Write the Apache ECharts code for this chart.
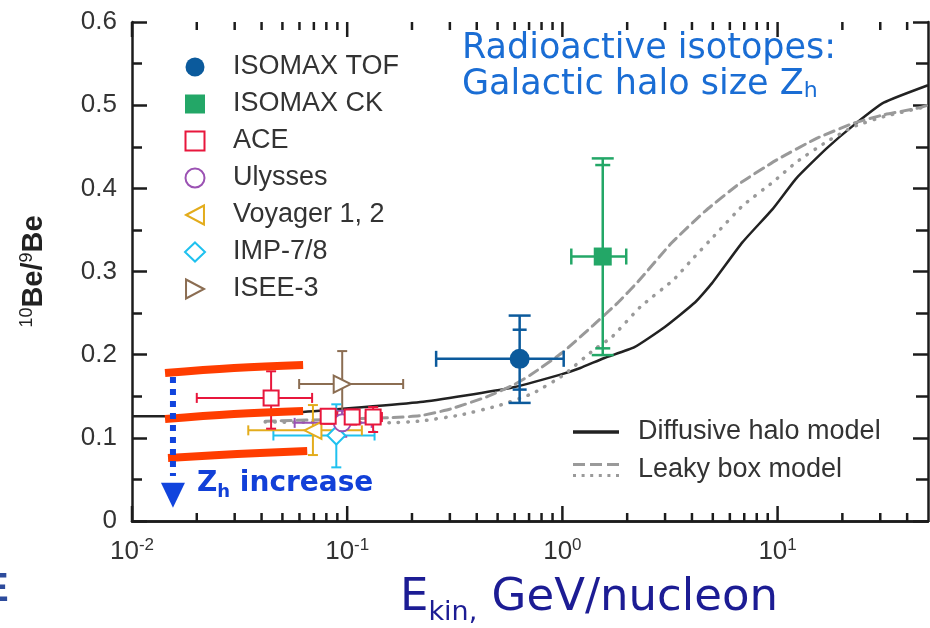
<!DOCTYPE html>
<html>
<head>
<meta charset="utf-8">
<script src="https://cdn.jsdelivr.net/npm/echarts@6/dist/echarts.min.js"></script>
<style>
  html, body { margin: 0; padding: 0; background: #fff; }
  #chart { width: 930px; height: 628px; }
</style>
</head>
<body>
<div id="chart"></div>
<script>
// 10Be/9Be isotope ratio versus kinetic energy per nucleon.
// Measurement rows: [E, E low, E high, ratio, ratio low, ratio high, (inner low, inner high)]
const isomaxTof = [[0.633, 0.259, 1.014, 0.195, 0.142, 0.247, 0.158, 0.230]];
const isomaxCk  = [[1.54, 1.10, 1.98, 0.318, 0.1995, 0.436, 0.2076, 0.428]];
const ace = [
  [0.0443, 0.0200, 0.0687, 0.148, 0.111, 0.180],
  [0.0816, 0.0757, 0.0900, 0.126, 0.117, 0.1346],
  [0.1055, 0.0980, 0.1130, 0.125, 0.116, 0.134],
  [0.132, 0.122, 0.145, 0.125, 0.107, 0.137]
];
const ulysses = [[0.0948, 0.057, 0.130, 0.118, 0.1013, 0.1325]];
const voyager = [[0.0693, 0.0347, 0.117, 0.109, 0.0793, 0.1394]];
const imp78   = [[0.089, 0.0454, 0.134, 0.1028, 0.0645, 0.1403]];
const isee3   = [[0.0948, 0.0598, 0.182, 0.1647, 0.125, 0.2043]];

// Model curves: [E, ratio]
const diffusiveHalo = [
  [0.01, 0.126], [0.02, 0.126], [0.035, 0.128], [0.0624, 0.131], [0.2185, 0.143],
  [0.573, 0.160], [0.979, 0.176], [1.212, 0.184], [1.568, 0.196], [2.162, 0.209],
  [2.981, 0.233], [4.142, 0.263], [4.96, 0.286], [6.86, 0.335], [9.48, 0.375],
  [12.22, 0.412], [16.9, 0.448], [22.6, 0.476], [31.1, 0.503], [50, 0.524]
];
const leakyBoxDashed = [
  [0.0416, 0.120], [0.1585, 0.1242], [0.2185, 0.1266], [0.3013, 0.1346], [0.4465, 0.1494],
  [0.5917, 0.1635], [0.7098, 0.1755], [1.011, 0.2035], [1.394, 0.2356], [1.797, 0.2617],
  [2.286, 0.290], [3.221, 0.3345], [4.626, 0.373], [6.628, 0.4054], [9.86, 0.4339],
  [15.18, 0.460], [22.6, 0.4784], [31.3, 0.4885], [44.9, 0.4965], [50, 0.500]
];
const leakyBoxDotted = [
  [0.0416, 0.119], [0.1585, 0.1181], [0.2185, 0.1202], [0.3354, 0.1274], [0.5147, 0.1394],
  [0.7326, 0.1538], [1.011, 0.1755], [1.394, 0.2055], [1.703, 0.2215], [2.306, 0.2576],
  [3.284, 0.290], [4.0, 0.3143], [5.06, 0.3425], [6.875, 0.379], [9.51, 0.4075],
  [12.26, 0.4317], [16.9, 0.456], [22.6, 0.4743], [31.3, 0.4864], [50, 0.4988]
];

// Halo-size sketch: three model bands and the downward arrow
const bandUpper  = [[0.01424, 0.1779], [0.0298, 0.1839], [0.0624, 0.1875]];
const bandMiddle = [[0.01424, 0.1226], [0.0298, 0.1286], [0.0624, 0.1322]];
const bandLower  = [[0.0147, 0.0757], [0.0308, 0.0805], [0.0652, 0.0841]];
const arrowShaft = [[0.0155, 0.173], [0.0155, 0.054]];
const arrowHead  = [[0.0155, 0.031]];

// Axis ticks
const ratioTicks = [0, 0.1, 0.2, 0.3, 0.4, 0.5, 0.6];
const energyMin = 0.01, energyMax = 50;
const energyMajorTicks = [0.01, 0.1, 1, 10];
const energyMinorTicks = [
  0.02, 0.03, 0.04, 0.05, 0.06, 0.07, 0.08, 0.09,
  0.2, 0.3, 0.4, 0.5, 0.6, 0.7, 0.8, 0.9,
  2, 3, 4, 5, 6, 7, 8, 9,
  20, 30, 40
];

const FONT = "'Liberation Sans', Arial, sans-serif";
const HAND = "'DejaVu Sans', sans-serif";
const AXIS = '#1c1c1c';
const dims = ['E', 'Elo', 'Ehi', 'R', 'Rlo', 'Rhi', 'Rlo2', 'Rhi2'];

function errorBars(color, width, capX, capY, capInner) {
  return function (params, api) {
    const e = api.value(0), elo = api.value(1), ehi = api.value(2);
    const r = api.value(3), rlo = api.value(4), rhi = api.value(5);
    const c = api.coord([e, r]);
    const xl = api.coord([elo, r])[0], xh = api.coord([ehi, r])[0];
    const yl = api.coord([e, rlo])[1], yh = api.coord([e, rhi])[1];
    const st = { stroke: color, lineWidth: width };
    const seg = (x1, y1, x2, y2) => ({ type: 'line', shape: { x1, y1, x2, y2 }, style: st });
    const kids = [
      seg(xl, c[1], xh, c[1]),
      seg(c[0], yl, c[0], yh),
      seg(xl, c[1] - capX, xl, c[1] + capX),
      seg(xh, c[1] - capX, xh, c[1] + capX),
      seg(c[0] - capY, yl, c[0] + capY, yl),
      seg(c[0] - capY, yh, c[0] + capY, yh)
    ];
    const rlo2 = api.value(6), rhi2 = api.value(7);
    if (isFinite(rlo2) && isFinite(rhi2)) {
      const yl2 = api.coord([e, rlo2])[1], yh2 = api.coord([e, rhi2])[1];
      kids.push(seg(c[0] - capInner, yl2, c[0] + capInner, yl2));
      kids.push(seg(c[0] - capInner, yh2, c[0] + capInner, yh2));
    }
    return { type: 'group', children: kids };
  };
}

function experiment(name, rows, color, symbol, opts) {
  const o = Object.assign({ size: 16, rotate: 0, filled: false, barWidth: 2, capX: 5, capY: 5, capInner: 0 }, opts || {});
  return [
    {
      type: 'custom', name: name + ' errors', data: rows, dimensions: dims,
      encode: { x: 0, y: 3 }, z: 4, silent: true, clip: false,
      renderItem: errorBars(color, o.barWidth, o.capX, o.capY, o.capInner)
    },
    {
      type: 'scatter', name: name, data: rows, dimensions: dims,
      encode: { x: 0, y: 3 }, z: 5, silent: true,
      symbol: symbol, symbolSize: o.size, symbolRotate: o.rotate, symbolKeepAspect: true,
      itemStyle: o.filled
        ? { color: color, opacity: 1 }
        : { color: '#ffffff', borderColor: color, borderWidth: 2, opacity: 1 }
    }
  ];
}

function band(data) {
  return {
    type: 'line', data: data, smooth: 0.4, symbol: 'none', z: 8, silent: true,
    lineStyle: { color: '#ff3d00', width: 8, cap: 'butt' }
  };
}

function modelLine(name, data, color, width, type) {
  return {
    type: 'line', name: name, data: data, smooth: 0.15,
    symbol: 'none', z: 2, silent: true,
    color: color, lineStyle: { color: color, width: width, type: type, cap: type === 'solid' ? 'butt' : 'round' },
    itemStyle: { color: color }
  };
}

function frameTicks(values, len) {
  return {
    type: 'custom', data: values.map(v => [v, ratioTicks[0]]), dimensions: ['E', 'R'],
    encode: { x: 0, y: 1 }, z: 20, silent: true, clip: false,
    renderItem: function (params, api) {
      const v = api.value(0);
      const b = api.coord([v, ratioTicks[0]]);
      const t = api.coord([v, ratioTicks[ratioTicks.length - 1]]);
      const st = { stroke: AXIS, lineWidth: 2.5 };
      return {
        type: 'group', children: [
          { type: 'line', shape: { x1: b[0], y1: b[1], x2: b[0], y2: b[1] - len }, style: st },
          { type: 'line', shape: { x1: t[0], y1: t[1], x2: t[0], y2: t[1] + len }, style: st }
        ]
      };
    }
  };
}

function decadeLabel(v) {
  const p = Math.log10(v);
  if (Math.abs(p - Math.round(p)) > 1e-6) return '';
  return '{b|10}{s|' + Math.round(p) + '}';
}

const chart = echarts.init(document.getElementById('chart'), null, { renderer: 'canvas' });

const xBase = {
  type: 'log', logBase: 10, min: energyMin, max: energyMax,
  axisLine: { show: true, lineStyle: { color: AXIS, width: 2.5 } },
  axisTick: { show: false },
  splitLine: { show: false }, minorTick: { show: false }
};
const yBase = {
  type: 'value', min: ratioTicks[0], max: ratioTicks[ratioTicks.length - 1], interval: 0.1,
  axisLine: { show: true, lineStyle: { color: AXIS, width: 2.5 } },
  axisTick: { show: true, inside: true, length: 15, lineStyle: { color: AXIS, width: 2.5 } },
  minorTick: { show: true, splitNumber: 2, length: 10, lineStyle: { color: AXIS, width: 2.5 } },
  splitLine: { show: false }
};

const option = {
  animation: false,
  backgroundColor: '#ffffff',
  grid: { left: 132, right: 2, top: 22, bottom: 107, containLabel: false },
  xAxis: [
    Object.assign({}, xBase, {
      position: 'bottom',
      axisLabel: {
        show: true, margin: 16, color: '#333', fontFamily: FONT,
        formatter: decadeLabel, showMaxLabel: false,
        rich: {
          b: { fontSize: 26, lineHeight: 30, fontFamily: FONT, color: '#333' },
          s: { fontSize: 17, lineHeight: 17, verticalAlign: 'top', fontFamily: FONT, color: '#333' }
        }
      }
    }),
    Object.assign({}, xBase, { position: 'top', axisLabel: { show: false } })
  ],
  yAxis: [
    Object.assign({}, yBase, {
      position: 'left',
      axisLabel: { show: true, margin: 15, fontSize: 26, color: '#333', fontFamily: FONT },
      name: '{sup|10}{b|Be/}{sup|9}{b|Be}',
      nameLocation: 'middle', nameRotate: 90, nameGap: 82,
      nameTextStyle: {
        rich: {
          b: { fontSize: 29, fontWeight: 'bold', color: '#222', fontFamily: FONT, lineHeight: 32 },
          sup: { fontSize: 18, color: '#222', fontFamily: FONT, lineHeight: 18, verticalAlign: 'top' }
        }
      }
    }),
    Object.assign({}, yBase, {
      position: 'right',
      axisLabel: { show: false },
      minorTick: { show: true, splitNumber: 2, length: 12, lineStyle: { color: AXIS, width: 2.5 } }
    })
  ],
  legend: [
    {
      data: [
        { name: 'ISOMAX TOF', icon: 'circle' },
        { name: 'ISOMAX CK', icon: 'rect' },
        { name: 'ACE', icon: 'path://M0,0h16v16h-16z' },
        { name: 'Ulysses', icon: 'circle' },
        { name: 'Voyager 1, 2', icon: 'path://M0,9L17,0L17,18Z' },
        { name: 'IMP-7/8', icon: 'diamond' },
        { name: 'ISEE-3', icon: 'path://M17,9L0,0L0,18Z' }
      ],
      orient: 'vertical', left: 184, top: 53, padding: 0,
      itemWidth: 20, itemHeight: 19, itemGap: 9, symbolKeepAspect: true,
      selectedMode: false,
      textStyle: { fontSize: 27, lineHeight: 28, color: '#333', fontFamily: FONT, padding: [0, 0, 0, 23] }
    },
    {
      data: [
        { name: 'Diffusive halo model', icon: 'path://M0,0h46v3.5h-46z', itemStyle: { color: '#222', borderWidth: 0 } },
        {
          name: 'Leaky box model',
          icon: 'path://M0,0h12v3h-12z M17,0h12v3h-12z M34,0h12v3h-12z ' +
                'M0,11h3v3h-3z M8.6,11h3v3h-3z M17.2,11h3v3h-3z M25.8,11h3v3h-3z M34.4,11h3v3h-3z M43,11h3v3h-3z',
          itemStyle: { color: '#9a9a9a', borderWidth: 0 }
        }
      ],
      orient: 'vertical', left: 573, top: 418, padding: 0,
      itemWidth: 46, itemHeight: 14, itemGap: 10, symbolKeepAspect: true,
      selectedMode: false,
      textStyle: { fontSize: 27, lineHeight: 28, color: '#333', fontFamily: FONT, padding: [0, 0, 0, 14] }
    }
  ],
  graphic: [
    {
      type: 'text', left: 462, top: 31, z: 100, silent: true,
      style: {
        text: '{a|Radioactive isotopes:}\n{a|Galactic halo size Z}{s|h}',
        fill: '#1a6dd4',
        rich: {
          a: { fontSize: 35, lineHeight: 36, fontFamily: HAND, fill: '#1a6dd4' },
          s: { fontSize: 22, lineHeight: 22, verticalAlign: 'bottom', fontFamily: HAND, fill: '#1a6dd4' }
        }
      }
    },
    {
      type: 'text', left: 197, top: 470, z: 100, silent: true,
      style: {
        text: '{z|Z}{h|h}{z| increase}',
        rich: {
          z: { fontSize: 28, lineHeight: 34, fontWeight: 'bold', fontFamily: HAND, fill: '#1240d8' },
          h: { fontSize: 18, lineHeight: 20, verticalAlign: 'bottom', fontWeight: 'bold', fontFamily: HAND, fill: '#1240d8' }
        }
      }
    },
    {
      type: 'text', left: 400, top: 576, z: 100, silent: true,
      style: {
        text: '{e|E}{k|kin,}{e| GeV/nucleon}',
        rich: {
          e: { fontSize: 45, lineHeight: 56, fontFamily: HAND, fill: '#1c1c94' },
          k: { fontSize: 27, lineHeight: 28, verticalAlign: 'bottom', fontFamily: HAND, fill: '#1c1c94' }
        }
      }
    },
    {
      type: 'text', left: -18, top: 570, z: 100, silent: true,
      style: { text: 'E', fontSize: 40, fontWeight: 'bold', fontFamily: FONT, fill: '#2d4b9c' }
    }
  ],
  series: [].concat(
    [
      modelLine('Diffusive halo model', diffusiveHalo, '#222222', 2.5, 'solid'),
      modelLine('Leaky box model', leakyBoxDashed, '#999999', 3, [10, 6]),
      modelLine('Leaky box model', leakyBoxDotted, '#9a9a9a', 3.5, [0.5, 9])
    ],
    experiment('ISOMAX TOF', isomaxTof, '#0b5a9c', 'circle', { size: 20, filled: true, barWidth: 2.5, capX: 8, capY: 11, capInner: 7 }),
    experiment('ISOMAX CK', isomaxCk, '#23a767', 'rect', { size: 18, filled: true, barWidth: 2.5, capX: 8, capY: 11, capInner: 7.5 }),
    experiment('ISEE-3', isee3, '#8b6d52', 'triangle', { size: 17, rotate: -90 }),
    experiment('IMP-7/8', imp78, '#1fc1ef', 'diamond', { size: 18 }),
    experiment('Voyager 1, 2', voyager, '#e3ac1c', 'triangle', { size: 17, rotate: 90 }),
    experiment('Ulysses', ulysses, '#9b52b3', 'circle', { size: 17 }),
    experiment('ACE', ace, '#e8173c', 'rect', { size: 15 }),
    [
      band(bandUpper), band(bandMiddle), band(bandLower),
      {
        type: 'line', data: arrowShaft, symbol: 'none', z: 9, silent: true,
        lineStyle: { color: '#1144dd', width: 6, type: [6, 6], cap: 'butt' }
      },
      {
        type: 'scatter', data: arrowHead, symbol: 'triangle', symbolRotate: 180,
        symbolSize: [24, 25], z: 9, silent: true, itemStyle: { color: '#1144dd', opacity: 1 }
      },
      // logarithmic ticks along the bottom and top frame
      frameTicks(energyMajorTicks, 15),
      frameTicks(energyMinorTicks, 8)
    ]
  )
};

chart.setOption(option);
</script>
</body>
</html>
